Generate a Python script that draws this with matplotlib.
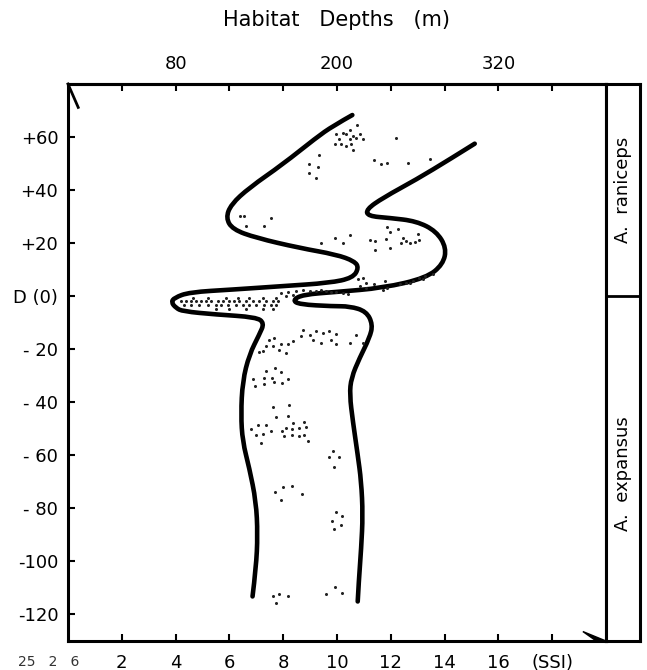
import matplotlib
matplotlib.use("Agg")
import matplotlib.pyplot as plt
from matplotlib.patches import Polygon, PathPatch
from matplotlib.path import Path

plt.rcParams['font.family'] = ['DejaVu Sans']

# ---- axis labelling -------------------------------------------------------
ssi_ticks = [2, 4, 6, 8, 10, 12, 14, 16, 18]
ssi_labels = ['2', '4', '6', '8', '10', '12', '14', '16', '(SSI)']
depth_ticks = [40, 80, 120, 160, 200, 240, 280, 320, 360]
depth_labels = ['', '80', '', '', '200', '', '', '320', '']
d_ticks = [-120, -100, -80, -60, -40, -20, 0, 20, 40, 60]
d_labels = ['-120', '-100', '- 80', '- 60', '- 40', '- 20', 'D (0)', '+20', '+40', '+60']

# ---- boundary of the occupied band (SSI, D) -------------------------------
left_ssi = [10.57, 9.85, 9.22, 7.98, 6.74, 6.06, 5.87, 6.12, 6.99, 8.60, 9.97,
            10.65, 10.81, 10.59, 9.72, 7.98, 6.12, 4.51, 3.95, 3.84, 4.01, 4.26,
            5.50, 6.99, 7.30, 7.11, 6.74, 6.49, 6.43, 6.49, 6.74, 6.99, 7.05,
            6.99, 6.86]
left_d = [68.3, 64.2, 59.7, 49.7, 40.9, 34.6, 29.5, 25.2, 22.0, 18.2, 15.7,
          13.2, 10.7, 6.9, 5.0, 3.8, 2.5, 1.5, -0.6, -2.3, -4.4, -5.7,
          -6.9, -7.9, -10.1, -14.5, -22.0, -32.1, -44.6, -54.7, -64.8, -77.4,
          -89.9, -102.5, -113.2]

right_ssi = [15.12, 14.19, 12.95, 11.71, 11.09, 11.15, 11.96, 12.95, 13.69,
             14.07, 13.94, 13.32, 11.71, 9.97, 8.73, 8.35, 8.60, 9.84, 10.47,
             11.09, 11.33, 11.21, 10.84, 10.53, 10.47, 10.59, 10.77, 10.90,
             10.96, 10.90, 10.81, 10.77]
right_d = [57.5, 51.6, 44.0, 37.1, 32.7, 30.2, 29.5, 28.3, 24.5, 18.2, 12.0,
           6.9, 3.1, 1.6, 0.6, -1.5, -3.1, -3.8, -3.8, -5.7, -10.7, -15.7,
           -23.3, -30.8, -37.1, -47.2, -59.8, -69.8, -82.4, -95.0, -107.5,
           -115.1]

# ---- individual records (stipple) ------------------------------------------
dot_ssi = [
    # upper group
    10.74, 10.47, 10.22, 9.97, 10.34, 10.59, 10.84, 10.09, 10.47, 10.71, 10.96,
    9.91, 10.16, 10.34, 10.53, 10.59, 12.18,
    9.32, 8.95, 9.29, 8.95, 9.22,
    11.36, 11.65, 11.86, 12.64, 13.45,
    6.39, 6.55, 6.62, 7.30, 7.55,
    9.41, 9.91, 10.22, 10.49, 11.21, 11.40, 11.43, 11.86, 11.96, 12.27, 11.83,
    11.98, 12.45, 12.39, 12.58, 12.70, 12.89, 13.01, 13.05,
    10.78, 10.96, 11.09, 10.84, 11.06, 11.36, 11.77, 11.86, 11.71, 12.33, 12.58,
    12.82, 13.05, 13.26, 13.57, 12.70, 13.20,
    7.92, 8.17, 8.48, 8.73, 8.98, 9.22, 9.41, 9.60, 9.78, 9.97, 10.22, 10.40,
    8.11, 8.36,
    # left lobe near D(0)
    4.63, 5.19, 5.87, 6.31, 6.74, 7.24, 7.73,
    4.20, 4.38, 4.57, 4.75, 4.94, 5.13, 5.31, 5.56, 5.75, 6.00, 6.18, 6.37, 6.62,
    6.87, 7.11, 7.36, 7.61, 7.80,
    4.32, 4.57, 4.88, 5.19, 5.50, 5.69, 5.93, 6.24, 6.49, 6.74, 6.99, 7.30, 7.55,
    7.73,
    5.50, 6.00, 6.62, 7.24, 7.61,
    # lower group
    8.73, 8.98, 9.22, 9.47, 9.72, 9.97, 8.67, 9.10, 9.41, 9.78, 9.97, 10.47,
    10.71, 10.96, 8.36, 8.17, 7.92, 7.67, 7.49, 7.36, 7.24, 7.61, 7.86, 8.11,
    7.11,
    7.36, 7.71, 7.92, 6.89, 7.30, 7.59, 8.17, 6.96, 7.30, 7.64, 7.96,
    7.61, 8.23, 7.73, 8.17, 8.35, 8.79, 6.80, 7.05, 7.36, 7.55, 6.99, 7.24,
    7.96, 8.11, 8.33, 8.60, 8.85, 8.04, 8.33, 8.60, 8.79, 8.91, 7.18,
    9.84, 9.72, 10.07, 9.87,
    7.71, 7.98, 8.33, 8.70, 7.92,
    9.97, 9.82, 10.19, 10.16, 9.87,
    7.61, 7.83, 8.17, 7.73, 9.60, 9.91, 10.19,
]
dot_d = [
    64.5, 62.5, 61.6, 61.0, 61.0, 60.4, 61.0, 59.1, 59.1, 59.5, 59.1,
    57.5, 57.2, 56.6, 57.5, 55.3, 59.5,
    53.2, 49.7, 48.7, 46.5, 44.6,
    51.2, 49.9, 50.3, 50.3, 51.9,
    30.2, 30.4, 26.4, 26.4, 29.6,
    20.1, 22.0, 20.1, 23.0, 21.0, 20.7, 17.6, 26.0, 24.3, 25.2, 21.4,
    18.2, 22.0, 20.1, 20.7, 20.1, 20.5, 23.3, 21.0,
    6.3, 6.9, 5.0, 3.8, 2.9, 4.6, 5.7, 3.1, 2.5, 4.6, 5.0,
    5.9, 6.9, 7.5, 8.4, 5.0, 6.3,
    1.25, 1.6, 1.9, 2.3, 1.9, 2.1, 2.5, 1.9, 1.6, 1.6, 1.25, 0.9,
    0.0, 0.6,
    -0.6, -0.6, -0.6, -0.6, -0.6, -0.6, -0.6,
    -1.9, -1.9, -1.9, -1.9, -1.9, -1.9, -1.9, -1.9, -1.9, -1.9, -1.9, -1.9,
    -1.9, -1.9, -1.9, -1.9, -1.9, -1.9,
    -3.4, -3.4, -3.4, -3.4, -3.4, -3.4, -3.4, -3.4, -3.4, -3.4, -3.4, -3.4,
    -3.4, -3.4,
    -5.0, -5.0, -5.0, -5.0, -5.0,
    -12.6, -14.5, -13.0, -13.8, -13.2, -14.2, -15.1, -16.4, -17.6, -16.7,
    -18.0, -17.6, -14.5, -17.6, -17.0, -18.2, -18.0, -15.7, -16.4, -18.9,
    -20.8, -18.9, -20.1, -21.4, -21.0,
    -28.3, -27.0, -28.6, -31.1, -30.8, -30.8, -31.1, -34.0, -33.1, -32.3,
    -32.7,
    -41.9, -41.1, -45.7, -45.3, -47.8, -47.4, -50.0, -48.4, -48.7, -50.7,
    -52.2, -52.0, -50.7, -49.7, -50.0, -49.7, -49.4, -52.8, -52.4, -52.8,
    -52.4, -54.5, -55.3,
    -58.5, -60.8, -60.8, -64.5,
    -73.8, -72.1, -71.7, -74.5, -77.0,
    -81.4, -84.7, -83.0, -86.2, -87.7,
    -113.2, -112.3, -113.2, -115.7, -112.3, -109.8, -112.0,
]

species = ['A.  raniceps', 'A.  expansus']
species_d = [40, -67]


def smooth_outline(xs, ys):
    """Quadratic-Bezier path that uses the listed vertices as control points."""
    pts = list(zip(xs, ys))
    verts = [pts[0]]
    codes = [Path.MOVETO]
    for i in range(1, len(pts) - 1):
        mid = ((pts[i][0] + pts[i + 1][0]) / 2, (pts[i][1] + pts[i + 1][1]) / 2)
        if i == len(pts) - 2:
            mid = pts[-1]
        verts += [pts[i], mid]
        codes += [Path.CURVE3, Path.CURVE3]
    return Path(verts, codes)


W, H = 647, 670
fig = plt.figure(figsize=(W / 100, H / 100), dpi=100)
ax = fig.add_axes([68 / W, 29 / H, 538 / W, 557 / H])

for xs, ys in ((left_ssi, left_d), (right_ssi, right_d)):
    ax.add_patch(PathPatch(smooth_outline(xs, ys), facecolor='none',
                           edgecolor='black', lw=3.3, joinstyle='round',
                           capstyle='round'))
ax.plot(dot_ssi, dot_d, ls='none', marker='o', ms=2.2, color='#222222',
        markeredgewidth=0)

ax.set_xlim(0, 20)
ax.set_ylim(-130, 80)
ax.set_xticks(ssi_ticks, ssi_labels)
ax.set_yticks(d_ticks, d_labels)
ax.tick_params(direction='in', length=5, width=1.5, labelsize=13, pad=7,
               colors='black')
ax.tick_params(axis='x', pad=9)
for s in ax.spines.values():
    s.set_linewidth(2.2)

sec = ax.secondary_xaxis('top', functions=(lambda s: s * 20, lambda d: d / 20))
sec.set_xticks(depth_ticks, depth_labels)
sec.tick_params(direction='in', length=5, width=1.5, labelsize=13, pad=8)
sec.spines['top'].set_linewidth(2.2)

# corner arrow marks on the frame
ax.plot([0.0, 0.019], [1.0, 0.958], transform=ax.transAxes, color='black',
        lw=2.0, clip_on=False)
ax.add_patch(Polygon([(0.957, 0.017), (1.0, 0.0), (0.982, 0.0)], closed=True,
                     transform=ax.transAxes, color='black', clip_on=False))

# species column on the right
side = fig.add_axes([606 / W, 29 / H, 34 / W, 557 / H])
side.set_xlim(0, 1)
side.set_ylim(-130, 80)
side.set_xticks([])
side.set_yticks([])
for s in side.spines.values():
    s.set_linewidth(2.2)
side.axhline(0, color='black', lw=2.0)
for name, yv in zip(species, species_d):
    side.text(0.5, yv, name, rotation=90, ha='center', va='center',
              fontsize=13)

fig.text(337 / W, 1 - 20 / H, 'Habitat   Depths   (m)', ha='center',
         va='center', fontsize=15)
fig.text(18 / W, 1 - 662 / H, '25   2   6', ha='left', va='center',
         fontsize=10, color='#333333')

fig.savefig('out.png', dpi=100, facecolor='white')
